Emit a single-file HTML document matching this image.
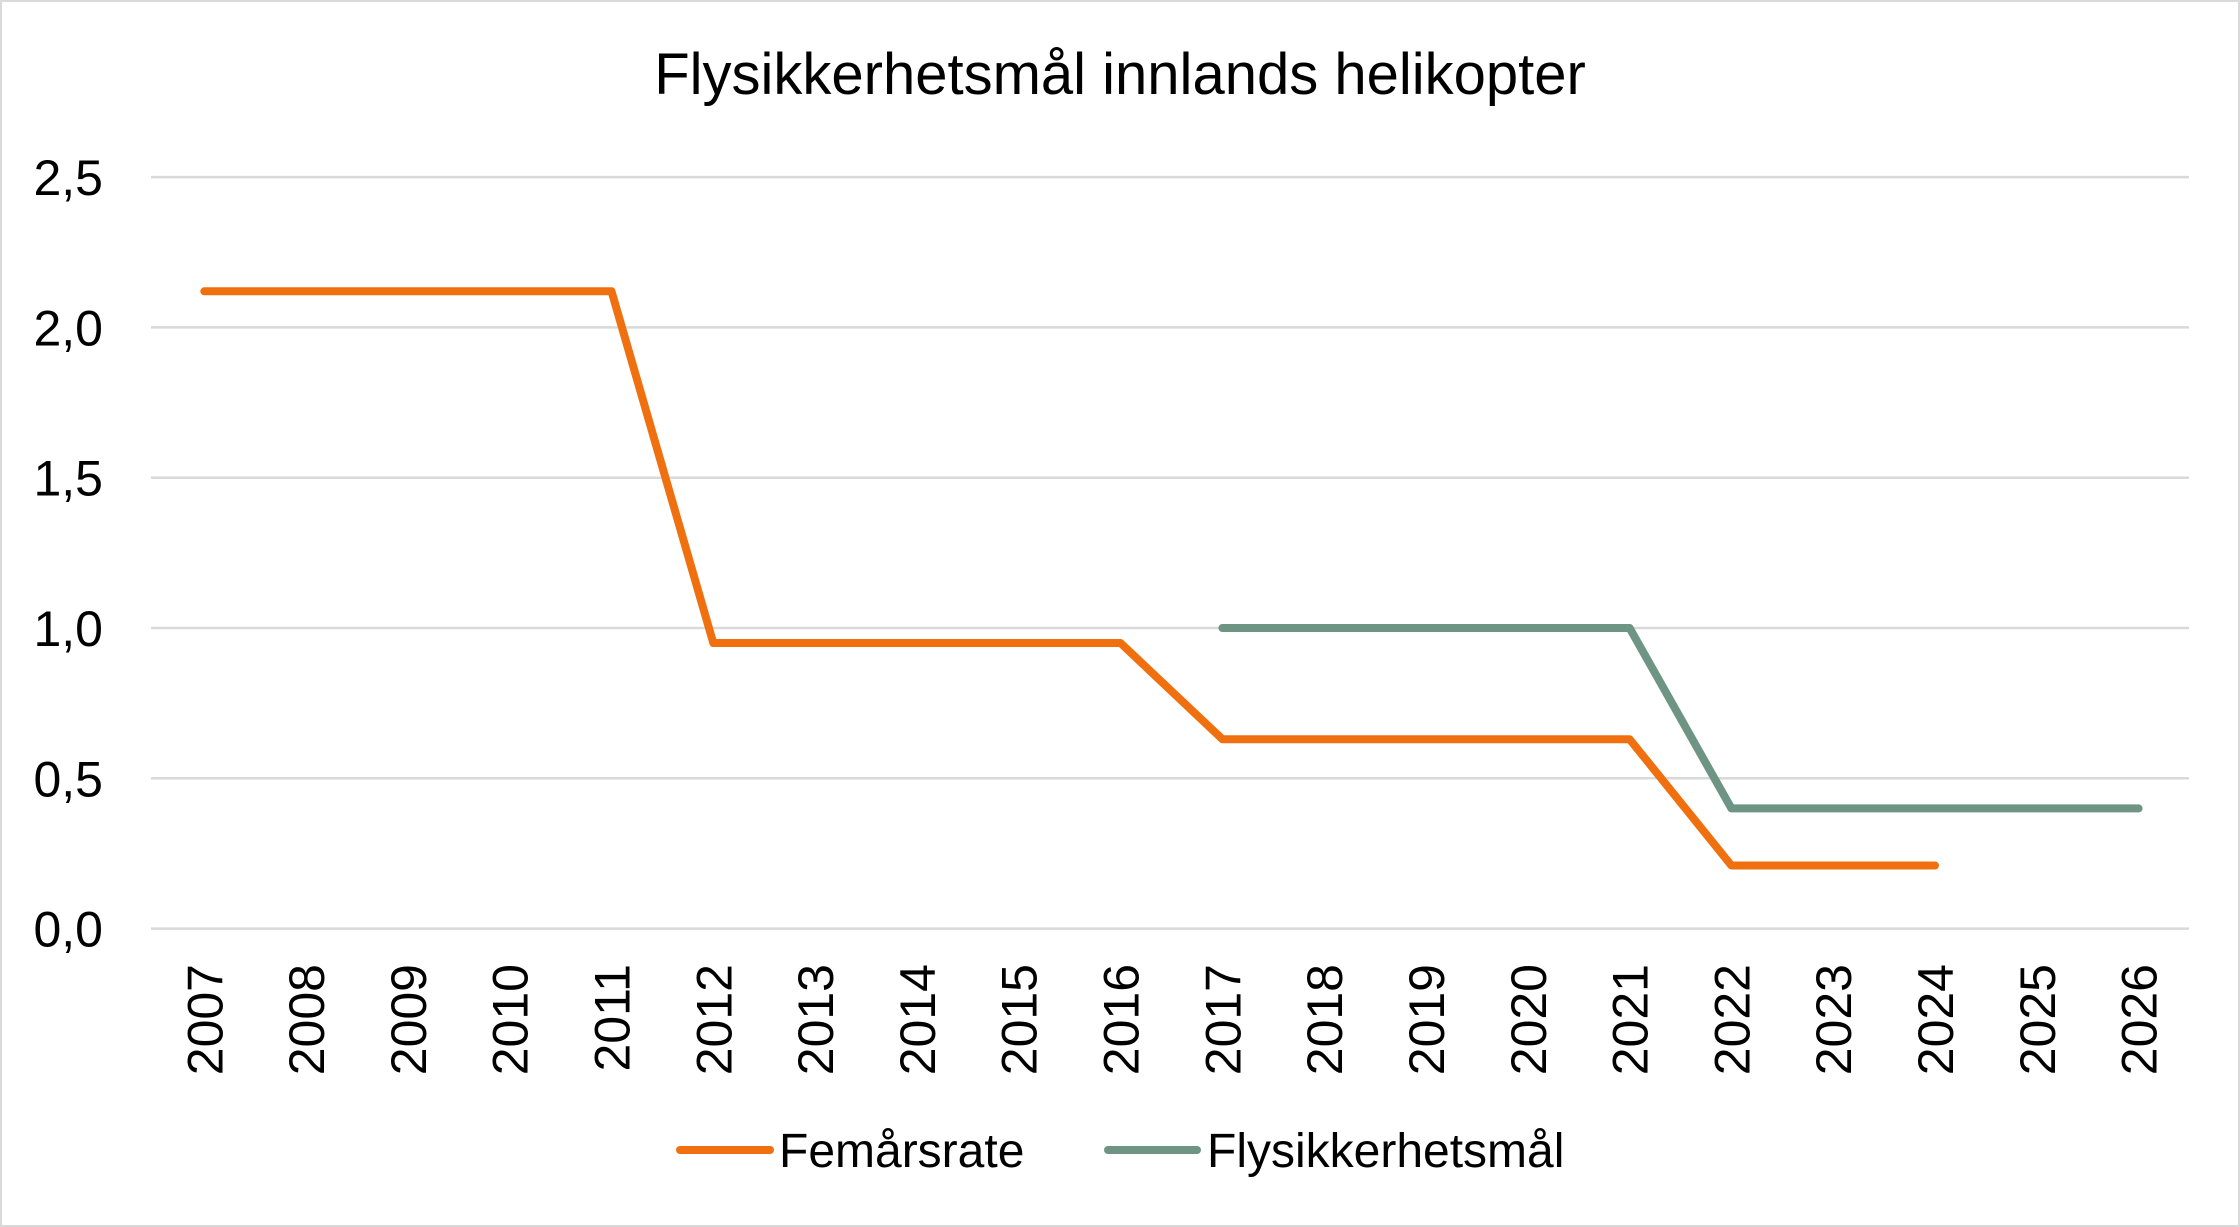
<!DOCTYPE html>
<html><head><meta charset="utf-8"><style>
html,body{margin:0;padding:0;background:#fff;}
svg{display:block;font-family:"Liberation Sans",Arial,sans-serif;}
</style></head><body>
<svg id="chart" width="2240" height="1227" viewBox="0 0 2240 1227">
<rect x="1" y="1" width="2238" height="1225" fill="#fff" stroke="#d9d9d9" stroke-width="2"/>
<text x="1120" y="94" text-anchor="middle" font-size="58" fill="#000">Flysikkerhetsmål innlands helikopter</text>
<g id="grid"></g><g id="ylabels"></g><g id="xlabels"></g><g id="series"></g>
<g>
<line x1="680" y1="1150" x2="770" y2="1150" stroke="#f07010" stroke-width="8" stroke-linecap="round"/>
<text x="779" y="1167" font-size="48" fill="#000">Femårsrate</text>
<line x1="1108" y1="1150" x2="1197" y2="1150" stroke="#6e9484" stroke-width="8" stroke-linecap="round"/>
<text x="1207" y="1167" font-size="48" fill="#000">Flysikkerhetsmål</text>
</g>
</svg>
<script>
const years=[2007,2008,2009,2010,2011,2012,2013,2014,2015,2016,2017,2018,2019,2020,2021,2022,2023,2024,2025,2026];
const yTicks=[0,0.5,1,1.5,2,2.5];
const yTickLabels=["0,0","0,5","1,0","1,5","2,0","2,5"];
const femarsrate=[2.12,2.12,2.12,2.12,2.12,0.95,0.95,0.95,0.95,0.95,0.63,0.63,0.63,0.63,0.63,0.21,0.21,0.21,null,null];
const flysikkerhetsmal=[null,null,null,null,null,null,null,null,null,null,1.0,1.0,1.0,1.0,1.0,0.4,0.4,0.4,0.4,0.4];
const NS="http://www.w3.org/2000/svg";
const x0=204.3,x1=2138.6,y0=928.6,yTop=177.1;
function xs(i){return x0+(x1-x0)*i/(years.length-1);}
function ys(v){return y0-(y0-yTop)*v/2.5;}
const grid=document.getElementById('grid'),yl=document.getElementById('ylabels'),xl=document.getElementById('xlabels'),ser=document.getElementById('series');
yTicks.forEach((t,i)=>{
 const l=document.createElementNS(NS,'line');
 
 
 l.setAttribute('x1',151);l.setAttribute('x2',2189);l.setAttribute('y1',ys(t));l.setAttribute('y2',ys(t));
 l.setAttribute('stroke','#d9d9d9');l.setAttribute('stroke-width','2.5');grid.appendChild(l);
 const tx=document.createElementNS(NS,'text');
 
 
 tx.setAttribute('x',103);tx.setAttribute('y',ys(t)+18);tx.setAttribute('text-anchor','end');tx.setAttribute('font-size','50');
 tx.textContent=yTickLabels[i];yl.appendChild(tx);
});
years.forEach((y,i)=>{
 const tx=document.createElementNS(NS,'text');
 
 
 const cx=xs(i)+18,cy=964;
 tx.setAttribute('x',cx);tx.setAttribute('y',cy);tx.setAttribute('text-anchor','end');tx.setAttribute('font-size','50');
 tx.setAttribute('transform','rotate(-90 '+cx+' '+cy+')');
 tx.textContent=y;xl.appendChild(tx);
});
function drawSeries(vals,color,name){
 let d='';vals.forEach((v,i)=>{if(v===null)return;d+=(d?'L':'M')+xs(i).toFixed(1)+' '+ys(v).toFixed(1)+' ';});
 const p=document.createElementNS(NS,'path');
 
 
 p.setAttribute('d',d);p.setAttribute('fill','none');p.setAttribute('stroke',color);p.setAttribute('stroke-width','8');
 p.setAttribute('stroke-linecap','round');p.setAttribute('stroke-linejoin','round');ser.appendChild(p);
}
drawSeries(flysikkerhetsmal,'#6e9484','series-flysikkerhetsmal');
drawSeries(femarsrate,'#f07010','series-femarsrate');
</script>
</body></html>
